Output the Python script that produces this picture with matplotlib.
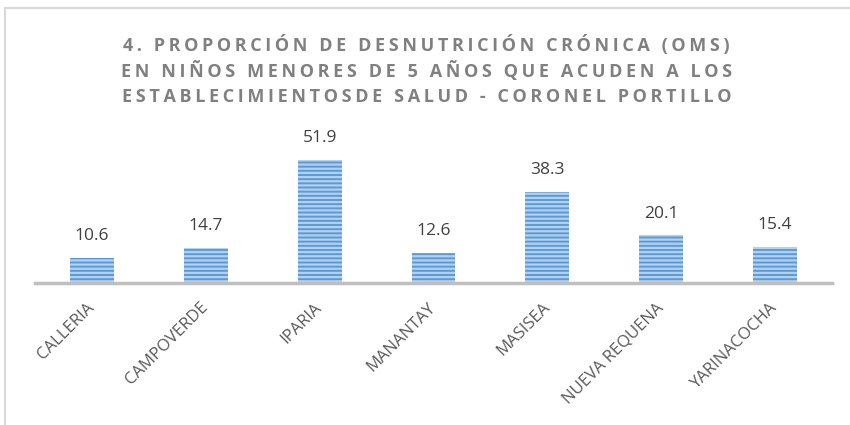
import matplotlib
matplotlib.use('Agg')
import matplotlib.pyplot as plt
from matplotlib.patches import Rectangle

distritos = ['CALLERIA', 'CAMPOVERDE', 'IPARIA', 'MANANTAY', 'MASISEA',
             'NUEVA REQUENA', 'YARINACOCHA']
valores = [10.6, 14.7, 51.9, 12.6, 38.3, 20.1, 15.4]

titulo = ['4. PROPORCIÓN DE DESNUTRICIÓN CRÓNICA (OMS)',
          'EN NIÑOS MENORES DE 5 AÑOS QUE ACUDEN A LOS',
          'ESTABLECIMIENTOSDE SALUD - CORONEL PORTILLO']

plt.rcParams['font.family'] = ['Open Sans', 'DejaVu Sans']


def espaciar(s):
    # Excel-style letter spacing, faked with thin spaces
    return '\u2009'.join(s)


fig = plt.figure(figsize=(8.5, 4.25), dpi=100)

# light frame of the chart area
fig.patches.append(Rectangle((5 / 850, -0.1), 1.2, 1.1 - 8 / 425,
                             transform=fig.transFigure, fill=False,
                             edgecolor='#d9d9d9', linewidth=1.5))

for i, linea in enumerate(titulo):
    fig.text(0.502, 1 - (45 + 26 * i) / 425, espaciar(linea),
             ha='center', va='center', fontsize=13, fontweight='bold',
             color='#808080')

ax = fig.add_axes((35 / 850, 142 / 425, 797 / 850, 142 / 425))

x = range(len(distritos))
ax.bar(x, valores, width=0.385, color='#5b9bd5', edgecolor='none')
plt.rcParams['hatch.linewidth'] = 1.6
ax.bar(x, valores, width=0.385, facecolor='none', edgecolor='#b4d0ee',
       hatch='----', linewidth=0)

for xi, v in zip(x, valores):
    ax.annotate('%.1f' % v, (xi, v), xytext=(0, 10), textcoords='offset points',
                ha='center', va='bottom', fontsize=12.5, color='#404040')

ax.set_xlim(-0.5, len(distritos) - 0.5)
ax.set_ylim(0, 60)
ax.set_xticks(list(x))
ax.set_xticklabels(distritos, rotation=45, ha='right', va='center',
                   rotation_mode='anchor', fontsize=12, color='#595959')
ax.tick_params(axis='x', length=0, pad=16)
ax.set_yticks([])
for s in ['top', 'right', 'left']:
    ax.spines[s].set_visible(False)
ax.spines['bottom'].set_color('#bfbfbf')
ax.spines['bottom'].set_linewidth(2.5)

fig.savefig('out.png', dpi=100)
